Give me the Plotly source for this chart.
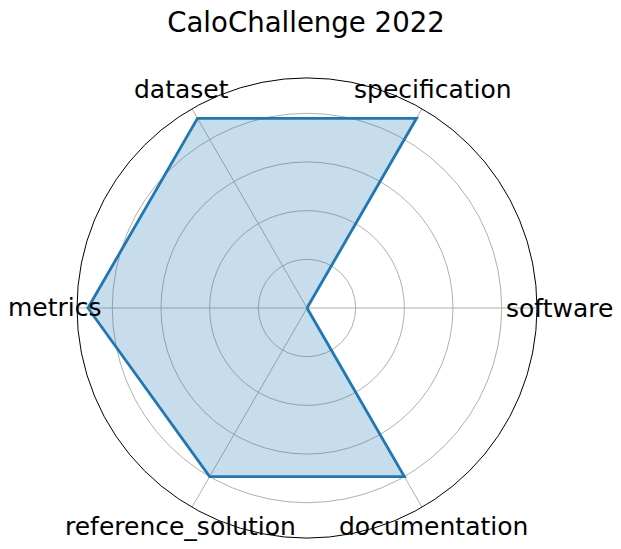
import math
import plotly.graph_objects as go

# Data
categories = ["software", "specification", "dataset", "metrics", "reference_solution", "documentation"]
values = [0, 4.5, 4.5, 4.5, 4.0, 4.0]
title_text = "CaloChallenge 2022"

W, H = 621, 549
CX, CY, RAD = 307, 308, 230          # polar frame centre / radius in px
LABEL_PAD = 22                        # label centre offset outside the frame
R_MAX = max(values) * 1.05            # matplotlib-like 5% margin

theta_closed = categories + [categories[0]]
values_closed = values + [values[0]]

fig = go.Figure()
fig.add_trace(go.Scatterpolar(
    r=values_closed, theta=theta_closed,
    mode="lines", fill="toself",
    fillcolor="rgba(31,119,180,0.25)",
    line=dict(color="#1f77b4", width=2.8),
    hoverinfo="skip", showlegend=False,
))

annotations = []
n = len(categories)
for i, cat in enumerate(categories):
    ang = 2 * math.pi * i / n
    px = CX + (RAD + LABEL_PAD) * math.cos(ang)
    py = CY - (RAD + LABEL_PAD) * math.sin(ang)
    annotations.append(dict(
        text=cat, x=px / W, y=1 - py / H, xref="paper", yref="paper",
        xanchor="center", yanchor="middle", showarrow=False,
        font=dict(family="DejaVu Sans", size=25, color="black"),
    ))

fig.update_layout(
    width=W, height=H,
    margin=dict(l=0, r=0, t=0, b=0),
    paper_bgcolor="white", plot_bgcolor="white",
    font=dict(family="DejaVu Sans", color="black"),
    title=dict(text=title_text, x=306 / W, xanchor="center",
               y=1 - 22.5 / H, yanchor="middle", yref="container",
               font=dict(family="DejaVu Sans", size=27.6, color="black")),
    annotations=annotations,
    polar=dict(
        domain=dict(x=[(CX - RAD) / W, (CX + RAD) / W],
                    y=[1 - (CY + RAD) / H, 1 - (CY - RAD) / H]),
        bgcolor="white",
        radialaxis=dict(range=[0, R_MAX], tickvals=[1, 2, 3, 4],
                        showticklabels=False, ticks="", showline=False,
                        gridcolor="#b0b0b0", gridwidth=0.8),
        angularaxis=dict(categoryorder="array", categoryarray=categories,
                         rotation=0, direction="counterclockwise",
                         showticklabels=False, ticks="",
                         showline=True, linecolor="black", linewidth=1,
                         gridcolor="#b0b0b0", gridwidth=0.8),
    ),
)

fig.write_html("out.html")
